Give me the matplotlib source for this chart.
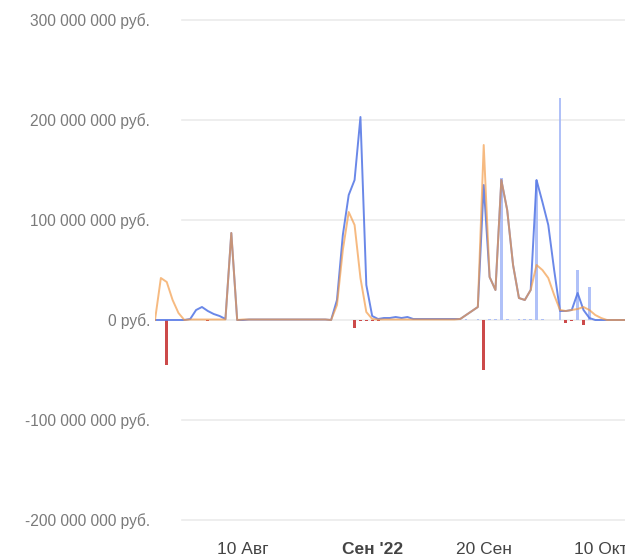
import matplotlib
matplotlib.use("Agg")
import matplotlib.pyplot as plt
import numpy as np
import pandas as pd

plt.rcParams["font.family"] = ["Liberation Sans", "DejaVu Sans"]

# daily values, millions of rubles, starting 26 Jul 2022
start = "2022-07-26"
blue = [0, 0, 0, 0, 0, 0,
        1, 10, 13, 9, 6, 4, 1,
        87,
        0, 0, .5, .5, .5, .5, .5, .5, .5, .5, .5, .5, .5, .5, .5, .5,
        0, 20, 85, 125, 140, 203, 35, 4,
        1, 2, 2, 3, 2, 3, 1, 1, 1, 1, 1, 1, 1, 1,
        1, 5, 9, 13,
        135, 43, 30, 140, 110, 55, 22, 20, 30,
        140, 118, 95, 50, 9, 9, 10, 27, 10, 2,
        0, 0, 0, 0, 0, 0]
orange = [0, 42, 38, 20, 7, 0,
          .5, .5, .5, .5, .5, .5, .5,
          87,
          0, .5, .5, .5, .5, .5, .5, .5, .5, .5, .5, .5, .5, .5, .5, .5,
          0, 15, 70, 108, 95, 42, 8, 1,
          .5, .5, .5, .5, .5, .5, .5, .5, .5, .5, .5, .5, .5, .5,
          1, 5, 9, 13,
          175, 43, 30, 140, 110, 55, 22, 20, 30,
          55, 50, 42, 25, 10, 9, 10, 11, 13, 10,
          5, 2, 0, 0, 0, 0]

# bar series (same days)
bar_up = np.zeros(81)
bar_up[[53, 55, 57, 58, 60, 62, 63, 64, 66]] = 1.5
bar_up[[59, 65, 69, 72, 74]] = [142, 140, 222, 50, 33]
bar_down = np.zeros(81)
bar_down[[9, 35, 36, 37, 38, 71]] = -1.2
bar_down[[2, 34, 56, 70, 73]] = [-45, -8, -50, -3, -5]

y_ticks = [-200e6, -100e6, 0, 100e6, 200e6, 300e6]
y_labels = ["-200 000 000 руб.", "-100 000 000 руб.", "0 руб.",
            "100 000 000 руб.", "200 000 000 руб.", "300 000 000 руб."]
x_ticks = ["2022-08-10", "2022-09-01", "2022-09-20", "2022-10-10"]
x_labels = ["10 Авг", "Сен '22", "20 Сен", "10 Окт"]

dates = pd.date_range(start, periods=len(blue), freq="D")
mln = 1e6

fig = plt.figure(figsize=(6.25, 5.56), dpi=100)
ax = fig.add_axes([155 / 625, 26 / 556, 470 / 625, 530 / 556])

for v in y_ticks:
    ax.axhline(v, xmin=27 / 470, color="#ebebeb", lw=1.2, zorder=0)

ax.bar(dates, bar_up * mln, width=0.45, color="#a3b7f7", alpha=0.85, zorder=1)
ax.bar(dates, bar_down * mln, width=0.5, color="#cc4a4a", zorder=1)
ax.plot(dates, np.array(blue) * mln, color="#5a7be6", lw=1.4, alpha=0.9, zorder=2)
ax.plot(dates, np.array(orange) * mln, color="#f39a45", lw=1.4, alpha=0.68, zorder=3)

ax.set_xlim(dates[0], dates[0] + pd.Timedelta(days=80.07))
ax.set_ylim(-210e6, 320e6)

ax.set_yticks(y_ticks, y_labels)
ax.set_xticks(pd.to_datetime(x_ticks), x_labels)
ax.tick_params(axis="y", length=0, pad=3.6, labelsize=11.2, labelcolor="#7a7a7a")
ax.tick_params(axis="x", length=0, pad=8.3, labelsize=12.5, labelcolor="#444444")
ax.get_xticklabels()[1].set_fontweight("bold")
for s in ax.spines.values():
    s.set_visible(False)

fig.savefig("out.png", dpi=100)
